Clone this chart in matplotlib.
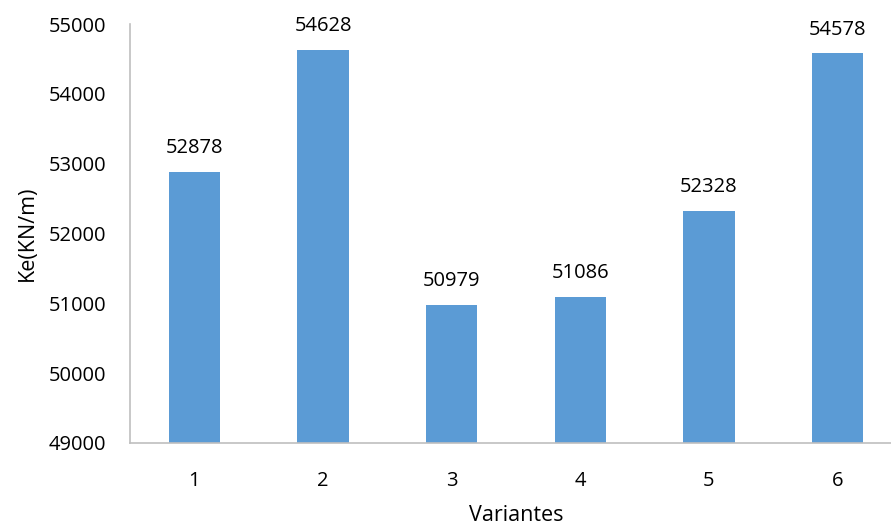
import numpy as np
import matplotlib.pyplot as plt

plt.rcParams['font.family'] = ['Open Sans', 'DejaVu Sans']

variantes = ['1', '2', '3', '4', '5', '6']
ke_values = [52878, 54628, 50979, 51086, 52328, 54578]

fig = plt.figure(figsize=(8.91, 5.26), dpi=100)
ax = fig.add_axes([130 / 891, 83 / 526, 772 / 891, 419 / 526])

x = np.arange(1, len(variantes) + 1)
bars = ax.bar(x, ke_values, width=0.4, color='#5B9BD5', zorder=2)

for xi, v in zip(x, ke_values):
    ax.annotate(str(v), (xi, v), xytext=(0, 10), textcoords='offset points',
                ha='center', va='bottom', fontsize=14.5, color='#000000')

ax.set_xlim(0.5, 6.5)
ax.set_ylim(49000, 55000)
ax.set_yticks(np.arange(49000, 55001, 1000))
ax.set_xticks(x)
ax.set_xticklabels(variantes)
ax.tick_params(axis='both', length=0, labelsize=14.5, colors='#000000')
ax.tick_params(axis='y', pad=17)
ax.tick_params(axis='x', pad=20)

for s in ['top', 'right']:
    ax.spines[s].set_visible(False)
for s in ['left', 'bottom']:
    ax.spines[s].set_color('#BFBFBF')
    ax.spines[s].set_linewidth(1.2)

ax.set_xlabel('Variantes', fontsize=15.5, labelpad=10)
ax.set_ylabel('Ke(KN/m)', fontsize=15.5, labelpad=8)

fig.savefig('out.png', dpi=100)
